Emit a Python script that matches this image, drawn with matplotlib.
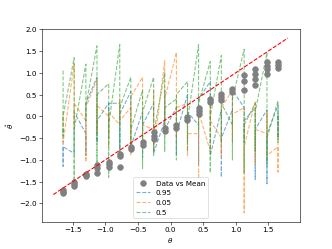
import matplotlib
matplotlib.use("Agg")
import matplotlib.pyplot as plt

theta = [-1.65, -1.48, -1.30, -1.13, -0.95, -0.78, -0.61, -0.43, -0.26, -0.09,
         0.09, 0.26, 0.43, 0.61, 0.78, 0.95, 1.13, 1.30, 1.48, 1.65]

mean_vals = [
    [-1.70, -1.73, -1.76], [-1.50, -1.56, -1.61], [-1.32, -1.35, -1.38],
    [-1.12, -1.20, -1.30], [-1.05, -1.10, -1.16], [-0.86, -0.92, -1.16],
    [-0.71, -0.75], [-0.60, -0.66], [-0.36, -0.45, -0.52], [-0.28, -0.34],
    [-0.20, -0.27], [-0.02, -0.08], [0.05, 0.12, 0.18], [0.33, 0.40],
    [0.37, 0.45, 0.52], [0.55, 0.62], [0.60, 0.82, 0.94],
    [0.72, 0.86, 0.97, 1.08], [0.98, 1.08, 1.16, 1.24], [1.12, 1.18, 1.25],
]

q95 = [
    [-0.30, -1.15, -0.70], [-0.85, -0.20, 0.10], [-0.40, -0.90, 0.30],
    [0.90, -0.60, -0.10], [0.30, -0.50, 0.30], [0.30, -0.80, 0.05],
    [0.57, -0.30, -0.70], [0.10, -0.95, -0.20], [0.30, -0.45, -0.85],
    [-0.10, 0.60, -0.30], [0.20, -0.90, -0.40], [0.50, -0.60, 0.10],
    [-0.20, -1.10, 0.40], [0.80, -0.30, -0.90], [0.15, -1.40, -0.50],
    [0.15, -0.20, 0.60], [0.20, -0.60, -0.10], [0.20, -1.45, -0.30],
    [0.15, -1.55, -0.40], [0.25, -0.50, 0.05],
]

q05 = [
    [0.10, -0.35, -0.60], [1.20, -0.30, 0.30], [-0.10, -1.05, 0.20],
    [0.85, -0.40, 0.25], [0.00, -0.70, 0.10], [-0.20, 0.40, -0.10],
    [0.20, -0.90, 0.45], [0.90, -0.60, -0.20], [-0.30, 0.60, -0.80],
    [1.28, -0.20, 0.40], [1.47, -0.50, 0.20], [0.30, -0.90, -0.40],
    [-0.40, -1.45, 0.10], [-0.80, 0.30, -0.10], [-0.50, -0.90, 0.20],
    [0.60, -0.60, 0.05], [0.20, -2.22, -0.70], [0.35, -1.10, -0.30],
    [-0.40, 0.10, -0.90], [-0.70, -1.28, -0.20],
]

q50 = [
    [1.05, -0.45, 0.00], [1.35, -1.50, -0.30], [1.20, -0.10, 0.25],
    [1.62, -1.30, 0.50], [0.75, -1.40, -0.20], [1.65, -0.90, 0.20],
    [0.90, -0.70, -0.30], [0.60, -1.20, 0.10], [0.90, -0.90, -0.40],
    [1.00, -0.80, 0.20], [0.40, -1.00, 0.50], [0.80, -0.80, -0.10],
    [1.65, -0.30, 0.30], [1.26, -1.30, 0.00], [1.40, -0.60, 0.30],
    [-0.20, -1.00, 0.40], [1.54, -1.30, -0.20], [0.30, -0.80, 0.10],
    [1.47, -1.10, -0.50], [0.36, -0.60, 0.10],
]

ident = [-1.8, 1.8]


def flatten(groups):
    xs, ys = [], []
    for t, g in zip(theta, groups):
        for v in g:
            xs.append(t)
            ys.append(v)
    return xs, ys


fig, ax = plt.subplots(figsize=(6.4, 4.8), dpi=52)

mx, my = flatten(mean_vals)
ax.scatter(mx, my, s=60, color="gray", label="Data vs Mean", zorder=3)

for groups, col, lab in [(q95, "C0", "0.95"), (q05, "C1", "0.05"), (q50, "C2", "0.5")]:
    x, y = flatten(groups)
    ax.plot(x, y, "--", color=col, alpha=0.6, label=lab)

ax.plot(ident, ident, "r--", zorder=4)

ax.set_xlim(-1.98, 1.98)
ax.set_ylim(-2.42, 2.0)
ax.set_xlabel(r"$\theta$")
ax.set_ylabel(r"$\hat{\theta}$")
ax.legend(loc="lower center")

fig.savefig("out.png", dpi=52)
